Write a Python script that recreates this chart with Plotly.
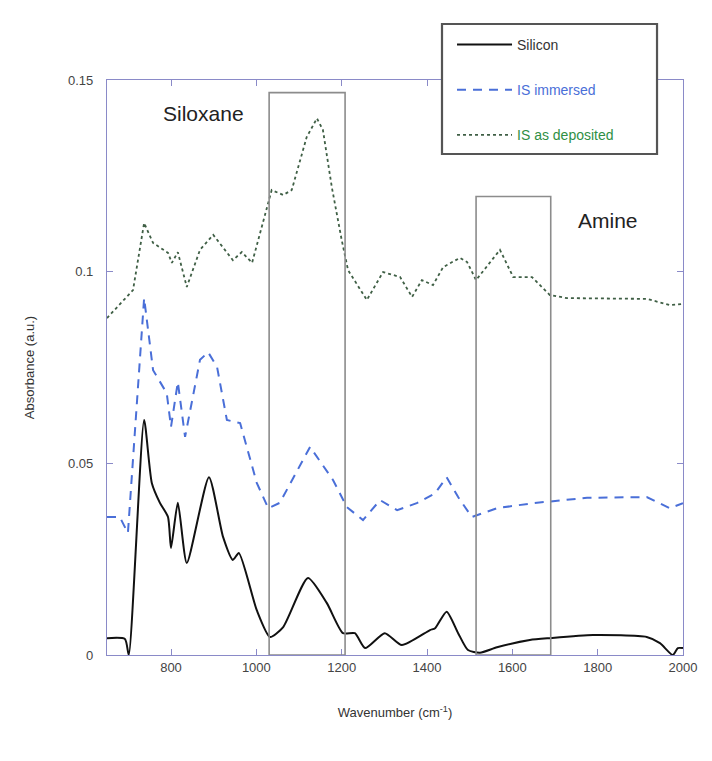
import plotly.graph_objects as go

# ---- data ----
si_x = [650, 692, 701, 737, 755, 774, 793, 800, 816, 837, 889, 922, 945, 959, 1001, 1032, 1063,
        1121, 1165, 1203, 1231, 1255, 1301, 1341, 1407, 1419, 1446, 1473, 1496, 1524, 1564,
        1641, 1688, 1789, 1915, 1946, 1976, 1988, 2000]
si_y = [0.0044, 0.0042, 0.0000, 0.0613, 0.0449, 0.0397, 0.0360, 0.0279, 0.0397, 0.0240, 0.0464,
        0.0308, 0.0248, 0.0266, 0.0117, 0.0047, 0.0073, 0.0201, 0.0136, 0.0057, 0.0057, 0.0018,
        0.0057, 0.0026, 0.0065, 0.0070, 0.0113, 0.0057, 0.0013, 0.0006, 0.0020, 0.0039, 0.0044,
        0.0052, 0.0047, 0.0031, 0.0000, 0.0018, 0.0018]

imm_x = [650, 680, 699, 737, 758, 790, 800, 816, 833, 868, 887, 908, 931, 962, 1001, 1028, 1055,
         1126, 1180, 1212, 1250, 1290, 1330, 1376, 1419, 1446, 1473, 1505, 1564, 1648, 1775,
         1915, 1969, 2000]
imm_y = [0.0360, 0.0360, 0.0318, 0.0931, 0.0743, 0.0683, 0.0595, 0.0712, 0.0569, 0.0770, 0.0790,
         0.0751, 0.0613, 0.0605, 0.0449, 0.0383, 0.0397, 0.0543, 0.0456, 0.0386, 0.0352, 0.0404,
         0.0378, 0.0396, 0.0422, 0.0464, 0.0412, 0.0360, 0.0383, 0.0396, 0.0410, 0.0412, 0.0383,
         0.0396]

dep_x = [650, 711, 737, 758, 793, 802, 816, 837, 868, 899, 945, 966, 990, 1016, 1036, 1063, 1083,
         1118, 1142, 1156, 1177, 1200, 1215, 1259, 1297, 1337, 1365, 1388, 1414, 1438, 1477,
         1494, 1515, 1571, 1602, 1646, 1688, 1728, 1915, 1969, 2000]
dep_y = [0.0879, 0.0952, 0.1127, 0.1075, 0.1049, 0.1023, 0.1051, 0.0960, 0.1057, 0.1096, 0.1030,
         0.1051, 0.1023, 0.1127, 0.1213, 0.1200, 0.1213, 0.1351, 0.1400, 0.1370, 0.1220, 0.1083,
         0.1004, 0.0926, 0.0999, 0.0986, 0.0934, 0.0978, 0.0965, 0.1012, 0.1036, 0.1025, 0.0978,
         0.1057, 0.0986, 0.0986, 0.0939, 0.0931, 0.0929, 0.0913, 0.0916]

series_names = ["Silicon", "IS immersed", "IS as deposited"]
series_colors = ["#111111", "#4a6fd8", "#3f5f45"]
legend_text_colors = ["#333333", "#4a6fd8", "#2f8f45"]
siloxane_band = [1030, 1208, 0.1467]
amine_band = [1515, 1690, 0.1196]
x_ticks = [800, 1000, 1200, 1400, 1600, 1800, 2000]
y_ticks = [0, 0.05, 0.1, 0.15]
y_tick_text = ["0", "0.05", "0.1", "0.15"]

FONT = "Liberation Sans, Arial, sans-serif"
AX = "#8a8ac8"


def legend_name(i):
    return "<span style='color:%s'>%s</span>" % (legend_text_colors[i], series_names[i])


fig = go.Figure()
fig.add_trace(go.Scatter(x=si_x, y=si_y, mode="lines", name=legend_name(0), legendgroup="a",
                         line=dict(color=series_colors[0], width=2, shape="spline", smoothing=0.6)))
fig.add_trace(go.Scatter(x=imm_x, y=imm_y, mode="lines", name=legend_name(1), legendgroup="b",
                         line=dict(color=series_colors[1], width=2, dash="9px,7px")))
fig.add_trace(go.Scatter(x=dep_x, y=dep_y, mode="lines", name=legend_name(2), legendgroup="c",
                         line=dict(color=series_colors[2], width=1.8, dash="dot")))

for band in (siloxane_band, amine_band):
    fig.add_shape(type="rect", xref="x", yref="y", x0=band[0], x1=band[1], y0=0, y1=band[2],
                  line=dict(color="#8c8c8c", width=1.6), fillcolor="rgba(0,0,0,0)", layer="above")

# legend frame
fig.add_shape(type="rect", xref="paper", yref="paper", x0=0.5816, x1=0.9549, y0=0.8713, y1=1.0974,
              line=dict(color="#555555", width=2.2), fillcolor="white", layer="above")

fig.add_annotation(x=0.167, y=0.942, xref="paper", yref="paper", text="Siloxane", showarrow=False,
                   xanchor="center", yanchor="middle",
                   font=dict(family=FONT, size=21, color="#222222"))
fig.add_annotation(x=0.869, y=0.756, xref="paper", yref="paper", text="Amine", showarrow=False,
                   xanchor="center", yanchor="middle",
                   font=dict(family=FONT, size=21, color="#222222"))

fig.update_layout(
    width=712, height=761,
    margin=dict(l=107, r=29, t=80, b=106),
    paper_bgcolor="white", plot_bgcolor="white",
    font=dict(family=FONT, size=13, color="#444444"),
    legend=dict(x=0.599, y=1.089, xanchor="left", yanchor="top", bgcolor="rgba(0,0,0,0)",
                borderwidth=0, traceorder="grouped", tracegroupgap=24,
                font=dict(family=FONT, size=14), itemwidth=55),
    xaxis=dict(range=[650, 2000], tickvals=x_ticks, ticks="inside", ticklen=6, tickcolor=AX,
               showline=True, linecolor=AX, linewidth=1.2, mirror="ticks", showgrid=False,
               zeroline=False, tickfont=dict(size=13, color="#444444"),
               title=dict(text="Wavenumber (cm<sup>-1</sup>)", font=dict(size=13, color="#333333"),
                          standoff=34)),
    yaxis=dict(range=[0, 0.15], tickvals=y_ticks, ticktext=y_tick_text, ticks="inside", ticklen=6,
               tickcolor=AX, showline=True, linecolor=AX, linewidth=1.2, mirror="ticks",
               showgrid=False, zeroline=False, tickfont=dict(size=13, color="#444444"),
               ticklabelstandoff=10,
               title=dict(text="Absorbance (a.u.)", font=dict(size=13, color="#333333"), standoff=30)),
)

fig.write_html("out.html")
